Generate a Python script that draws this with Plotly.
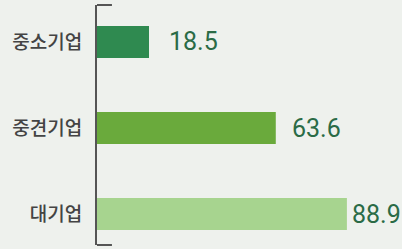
import plotly.graph_objects as go

categories = ["중소기업", "중견기업", "대기업"]
values = [18.5, 63.6, 88.9]
value_labels = ["18.5", "63.6", "88.9"]
bar_colors = ["#2f8a50", "#6aaa3c", "#a7d48f"]
label_gaps = [18, 14, 3]

fig = go.Figure(go.Bar(
    x=values, y=categories, orientation="h",
    marker=dict(color=bar_colors, line=dict(width=0)),
    width=0.37, hoverinfo="skip",
))

for c, v, t, g in zip(categories, values, value_labels, label_gaps):
    fig.add_annotation(x=v, y=c, text=t, showarrow=False, xanchor="left",
                       xshift=g, yshift=0,
                       font=dict(family="Roboto", size=25, color="#2a6b46"))

line_color = "#555555"
for yy in (0, 1):
    fig.add_shape(type="line", xref="paper", yref="paper", x0=0, x1=0.049,
                  y0=yy, y1=yy, line=dict(color=line_color, width=2))

fig.update_layout(
    width=402, height=249,
    margin=dict(l=97, r=0, t=5, b=4),
    paper_bgcolor="#eef1ed", plot_bgcolor="#eef1ed",
    showlegend=False,
    xaxis=dict(range=[0, 108.5], visible=False, fixedrange=True),
    yaxis=dict(
        type="category", categoryorder="array", categoryarray=categories,
        range=[2.36, -0.43], showline=True, linecolor=line_color, linewidth=2,
        showgrid=False, zeroline=False, ticks="", ticklabelstandoff=9,
        automargin=False,
        tickfont=dict(family="Noto Sans CJK KR", size=19, weight=500, color="#444444"),
    ),
)

fig.write_html(
    "out.html",
    config={"displayModeBar": False},
    post_script="document.body.style.margin='0';document.body.style.background='#eef1ed';",
)
